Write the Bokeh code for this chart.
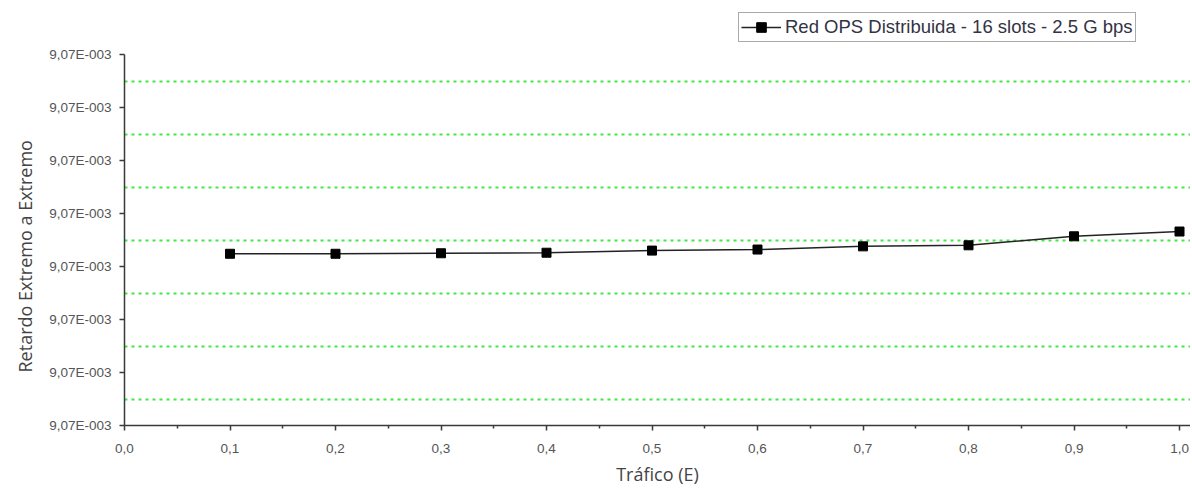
from bokeh.plotting import figure
from bokeh.models import (Range1d, FixedTicker, CustomJSTickFormatter, Legend, LegendItem, Title)
from bokeh.embed import file_html
from bokeh.resources import INLINE

# ---- data ----
trafico = [0.1, 0.2, 0.3, 0.4, 0.5, 0.6, 0.7, 0.8, 0.9, 1.0]
retardo = [9.07000324e-3, 9.07000324e-3, 9.07000325e-3, 9.07000326e-3, 9.07000330e-3,
           9.07000332e-3, 9.07000338e-3, 9.07000340e-3, 9.07000357e-3, 9.07000366e-3]
serie = "Red OPS Distribuida - 16 slots - 2.5 G bps"
x_ticks = [0.0, 0.1, 0.2, 0.3, 0.4, 0.5, 0.6, 0.7, 0.8, 0.9, 1.0]
y_base = 9.07e-3
y_step = 1e-9
y_ticks = [y_base + i * y_step for i in range(8)]
x_title = "Tráfico (E)"
y_title = "Retardo Extremo a Extremo"

p = figure(width=1190, height=488, output_backend="svg", toolbar_location=None,
           min_border_left=123, min_border_right=0, min_border_top=12, min_border_bottom=63)
p.outline_line_color = None
p.x_range = Range1d(0.0, 1.0 + 11.0 / 1056.0)
p.y_range = Range1d(y_base, y_base + (413.0 / 53.0) * y_step)

ln = p.line(trafico, retardo, line_color="#222222", line_width=1.5)
r = p.scatter(trafico, retardo, marker="square", size=9, fill_color="black", line_color="black")

# axes
x_minor = [round(t + 0.05, 2) for t in x_ticks[:-1]]
p.xaxis.ticker = FixedTicker(ticks=x_ticks, minor_ticks=x_minor)
p.xaxis.formatter = CustomJSTickFormatter(code="return tick.toFixed(1).replace('.', ',');")
y_minor = [y_ticks[i] + y_step / 2 for i in range(7)]
p.yaxis.ticker = FixedTicker(ticks=y_ticks, minor_ticks=y_minor)
p.yaxis.formatter = CustomJSTickFormatter(code="""
const s = tick.toExponential(2);
const parts = s.split('e');
const n = parseInt(parts[1]);
const es = (n < 0 ? '-' : '+') + String(Math.abs(n)).padStart(3, '0');
return parts[0].replace('.', ',') + 'E' + es;
""")
p.yaxis.bounds = (y_ticks[0], y_ticks[-1])

for ax in (p.xaxis[0], p.yaxis[0]):
    ax.axis_line_color = "#3a3a3a"
    ax.axis_line_width = 1.5
    ax.major_tick_line_color = "#3a3a3a"
    ax.major_tick_line_width = 1.5
    ax.major_tick_out = 5
    ax.major_tick_in = 0
    ax.major_label_text_font = "Liberation Sans"
    ax.major_label_text_font_size = "13.5px"
    ax.major_label_text_color = "#555555"

p.xaxis.minor_tick_line_color = "#3a3a3a"
p.xaxis.minor_tick_line_width = 1.5
p.xaxis.minor_tick_out = 3
p.xaxis.minor_tick_in = 0
p.yaxis.minor_tick_line_color = None
p.xaxis.major_label_standoff = 13
p.yaxis.major_label_standoff = 8

p.xaxis.axis_label = x_title
p.xaxis.axis_label_text_font = "Open Sans"
p.xaxis.axis_label_text_font_size = "18px"
p.xaxis.axis_label_text_font_style = "normal"
p.xaxis.axis_label_text_color = "#444444"
p.xaxis.axis_label_standoff = 6

# y title as a side title (lets it sit lower than the frame centre, as in the reference)
p.add_layout(Title(text=y_title, align="left", offset=53, text_font="Open Sans",
                   text_font_size="18px", text_font_style="normal", text_color="#444444",
                   standoff=20), "left")

# grid: only dotted green minor lines on y
p.xgrid.grid_line_color = None
p.ygrid.grid_line_color = None
p.ygrid.minor_grid_line_color = "#44e844"
p.ygrid.minor_grid_line_width = 2
p.ygrid.minor_grid_line_dash = "3 4"

legend = Legend(items=[LegendItem(label=serie, renderers=[ln, r])], location=(614, 383))
legend.label_text_font = "Liberation Sans"
legend.label_text_font_size = "18.5px"
legend.label_text_color = "#333344"
legend.border_line_color = "#555555"
legend.border_line_width = 1.5
legend.padding = 2
legend.margin = 0
legend.spacing = 0
legend.glyph_width = 40
legend.glyph_height = 24
legend.label_height = 24
legend.label_standoff = 4
legend.background_fill_alpha = 1
p.add_layout(legend)

open("out.html", "w").write(file_html(p, INLINE))
